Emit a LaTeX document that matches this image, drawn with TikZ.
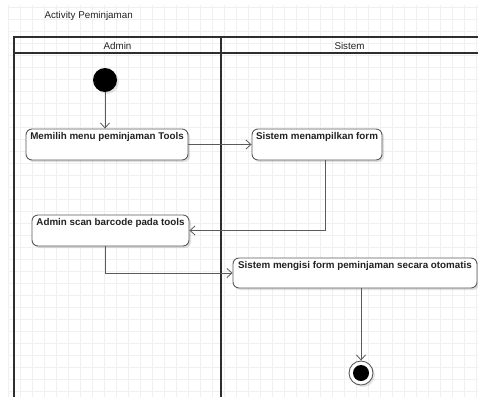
\documentclass[tikz,border=0pt]{standalone}
\usepackage{fontspec}
\setmainfont{Liberation Sans}
\usetikzlibrary{arrows.meta,shadows}
\definecolor{gridc}{HTML}{F0F0F0}
\definecolor{linec}{HTML}{5A5A5A}
\definecolor{poolc}{HTML}{2E2E2E}
\definecolor{txtc}{HTML}{222222}
\tikzset{
  every node/.style={font=\fontsize{9.8}{11.8}\selectfont, text=txtc},
  actbox/.style={draw=linec, line width=0.9pt, rounded corners=6pt, fill=white, inner sep=0pt,
     drop shadow={shadow xshift=2pt, shadow yshift=-2pt, opacity=0.12, fill=black}},
  boxtext/.style={font=\bfseries\fontsize{9.8}{11.8}\selectfont, anchor=north, inner sep=0pt, text=txtc},
  flow/.style={draw=linec, line width=0.8pt, -{Straight Barb[length=5pt,width=9pt]}},
  poolline/.style={draw=poolc, line width=1.6pt},
}
\begin{document}
\begin{tikzpicture}[x=1pt,y=-1pt]
\useasboundingbox (0,0) rectangle (478,397);
% grid
\foreach \i in {0,...,39} {\draw[gridc, line width=0.5pt] (8+12*\i,5) -- (8+12*\i,397);}
\foreach \j in {0,...,32} {\draw[gridc, line width=0.5pt] (8,7+12*\j) -- (478,7+12*\j);}
% title
\node[anchor=west] (title) at (41,15.5) {Activity Peminjaman};
% pool
\draw[poolline] (14,397) -- (14,37) -- (478,37);
\draw[poolline] (14,53) -- (478,53);
\draw[poolline] (221,37) -- (221,397);
\node (laneA) at (117.5,45.5) {Admin};
\node (laneS) at (349.5,45.5) {Sistem};
% start
\node[circle, fill=black, minimum size=24pt, inner sep=0pt,
   drop shadow={shadow xshift=2pt, shadow yshift=-2pt, opacity=0.1, fill=black}] (start) at (105,80) {};
% activities
\node[actbox, minimum width=162pt, minimum height=31pt,
   label={[boxtext, yshift=-4pt]north:Memilih menu peminjaman Tools}] (b1) at (107,144.5) {};
\node[actbox, minimum width=130pt, minimum height=31pt,
   label={[boxtext, yshift=-4pt]north:Sistem menampilkan form}] (b3) at (317,144.5) {};
\node[actbox, minimum width=157pt, minimum height=31pt,
   label={[boxtext, yshift=-4pt]north:Admin scan barcode pada tools}] (b2) at (110.5,230.5) {};
\node[actbox, minimum width=244pt, minimum height=30pt,
   label={[boxtext, yshift=-4pt]north:Sistem mengisi form peminjaman secara otomatis}] (b4) at (355,273) {};
% end
\node[circle, draw=linec, line width=0.9pt, fill=white, minimum size=24pt, inner sep=0pt,
   drop shadow={shadow xshift=2pt, shadow yshift=-2pt, opacity=0.1, fill=black}] (end) at (361,373) {};
\node[circle, fill=black, minimum size=16pt, inner sep=0pt] (endin) at (end) {};
% flows
\draw[flow] (start) -- (b1.north -| start);
\draw[flow] (b1.east) -- (b3.west);
\draw[flow] (b3.south -| 325,0) |- (b2.east);
\draw[flow] (b2.south -| start) |- (b4.west);
\draw[flow] (b4.south -| end) -- (end.north);
\end{tikzpicture}
\end{document}
